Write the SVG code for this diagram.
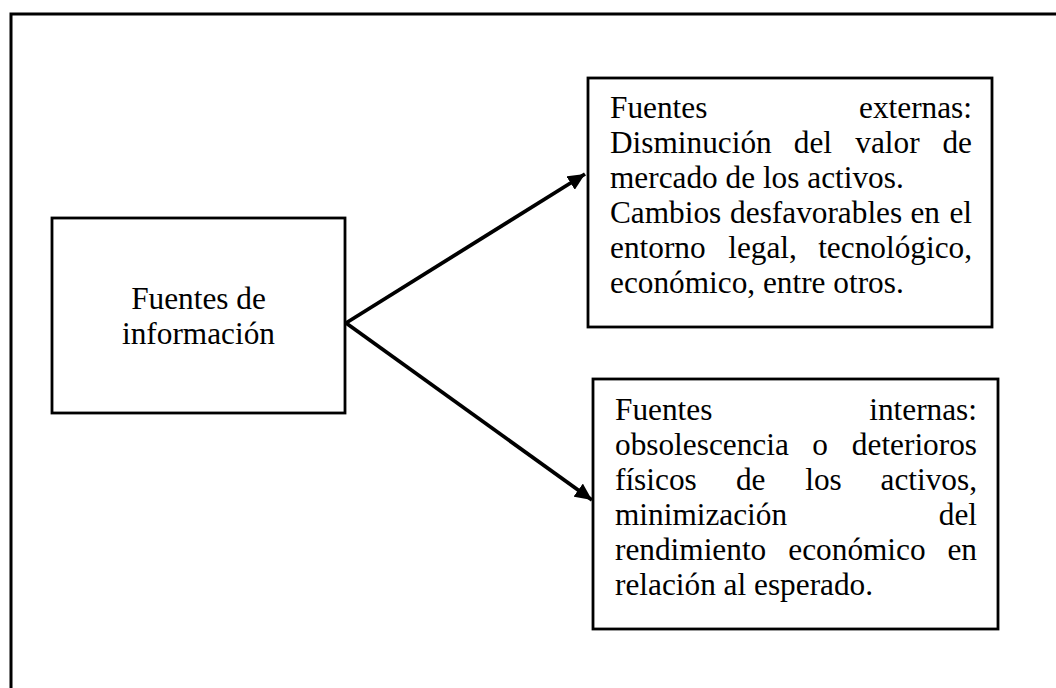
<svg xmlns="http://www.w3.org/2000/svg" width="1056" height="688" viewBox="0 0 1056 688">
<defs>
<style>
.box{fill:#fff;stroke:#000;stroke-width:2.8}
.t{font-family:"Liberation Serif","Times New Roman",serif;font-size:31.3px;fill:#000}
.e{text-anchor:end}
.c{text-anchor:middle}
.conn{stroke:#000;stroke-width:3.8;fill:none}
</style>
<marker id="ah" markerUnits="userSpaceOnUse" markerWidth="18" markerHeight="16" refX="17" refY="8" orient="auto">
<path d="M0,0 L17,8 L0,16 Z" fill="#000"/>
</marker>
</defs>
<rect width="1056" height="688" fill="#fff"/>
<rect x="11" y="14" width="1100" height="720" fill="none" stroke="#000" stroke-width="3"/>
<g id="connectors">
<line class="conn" x1="346" y1="323" x2="585" y2="174" marker-end="url(#ah)"/>
<line class="conn" x1="346" y1="323" x2="592" y2="500" marker-end="url(#ah)"/>
</g>
<g id="node-fuentes">
<rect class="box" x="52" y="218" width="293" height="195"/>
<text class="t c" x="198.5" y="309">Fuentes de</text>
<text class="t c" x="198.5" y="344">información</text>
</g>
<g id="node-externas">
<rect class="box" x="588" y="78" width="404" height="249"/>
<text class="t" x="610" y="118">Fuentes</text>
<text class="t e" x="972" y="118">externas:</text>
<text class="t" x="610" y="153">Disminución</text>
<text class="t" x="793.8" y="153">del</text>
<text class="t" x="855.3" y="153">valor</text>
<text class="t e" x="972" y="153">de</text>
<text class="t" x="610" y="188">mercado de los activos.</text>
<text class="t" x="610" y="223">Cambios</text>
<text class="t" x="730.1" y="223">desfavorables</text>
<text class="t" x="910.4" y="223">en</text>
<text class="t e" x="972" y="223">el</text>
<text class="t" x="610" y="258">entorno</text>
<text class="t" x="728.2" y="258">legal,</text>
<text class="t e" x="972" y="258">tecnológico,</text>
<text class="t" x="610" y="293">económico, entre otros.</text>
</g>
<g id="node-internas">
<rect class="box" x="593" y="379" width="405" height="250"/>
<text class="t" x="615" y="420">Fuentes</text>
<text class="t e" x="977" y="420">internas:</text>
<text class="t" x="615" y="455">obsolescencia</text>
<text class="t" x="812.3" y="455">o</text>
<text class="t e" x="977" y="455">deterioros</text>
<text class="t" x="615" y="490">físicos</text>
<text class="t" x="735.9" y="490">de</text>
<text class="t" x="805.2" y="490">los</text>
<text class="t e" x="977" y="490">activos,</text>
<text class="t" x="615" y="525">minimización</text>
<text class="t e" x="977" y="525">del</text>
<text class="t" x="615" y="560">rendimiento</text>
<text class="t" x="788.3" y="560">económico</text>
<text class="t e" x="977" y="560">en</text>
<text class="t" x="615" y="595">relación al esperado.</text>
</g>
</svg>
